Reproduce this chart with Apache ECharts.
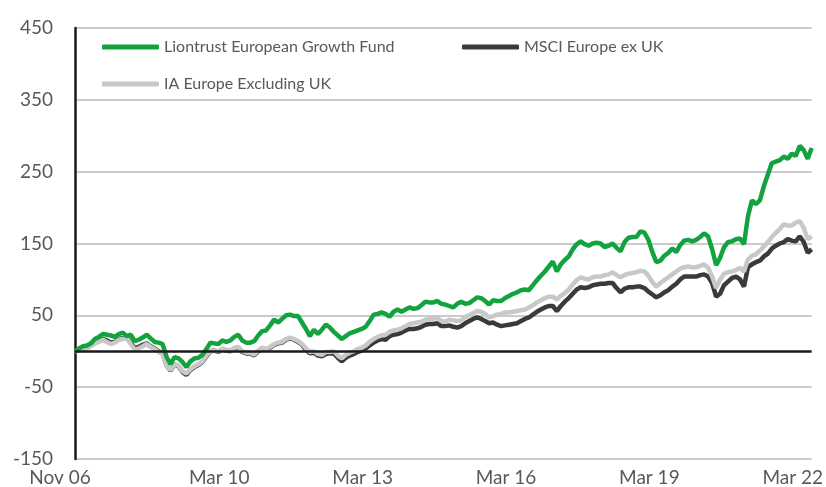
<!DOCTYPE html>
<html>
<head>
<meta charset="utf-8">
<script src="https://cdn.jsdelivr.net/npm/echarts@6/dist/echarts.min.js"></script>
<style>
  html, body { margin: 0; background: #fff; }
  #chart { width: 826px; height: 487px; }
</style>
</head>
<body>
<div id="chart"></div>
<script>
// monthly points, Nov 06 .. Mar 22 (cumulative % return)
const monthNames = ['Jan', 'Feb', 'Mar', 'Apr', 'May', 'Jun', 'Jul', 'Aug', 'Sep', 'Oct', 'Nov', 'Dec']
const categories = []
for (let i = 0; i < 186; i++) {
  const m = (10 + i) % 12
  const y = 6 + Math.floor((10 + i) / 12)
  categories.push(monthNames[m] + ' ' + String(y).padStart(2, '0'))
}
const tickLabels = ['Nov 06', 'Mar 10', 'Mar 13', 'Mar 16', 'Mar 19', 'Mar 22']

const liontrust = [
  0, 4, 7, 8, 11, 17, 20, 24, 23, 22, 20, 24, 26, 21, 23, 14, 16, 19, 23, 18,
  13, 12, 10, -8, -18, -8, -10, -15, -22, -14, -10, -9, -5, 3, 12, 11, 10, 15, 13, 15,
  20, 23, 15, 12, 12, 14, 22, 28, 29, 36, 44, 40, 45, 50, 51, 49, 49, 40, 31, 21,
  30, 24, 30, 37, 33, 27, 22, 17, 21, 25, 27, 29, 31, 34, 42, 51, 52, 54, 52, 48,
  55, 58, 55, 58, 61, 59, 60, 64, 69, 68, 68, 70, 66, 65, 63, 61, 66, 69, 66, 67,
  71, 75, 74, 70, 65, 71, 70, 70, 74, 77, 80, 82, 85, 86, 85, 92, 99, 105, 111, 118,
  125, 111, 121, 127, 132, 142, 149, 153, 149, 147, 150, 151, 150, 145, 147, 150, 144, 139, 152, 158,
  159, 159, 167, 165, 155, 138, 124, 126, 133, 137, 143, 138, 148, 154, 155, 153, 155, 159, 164, 160,
  142, 120, 130, 145, 152, 153, 156, 157, 149, 188, 210, 205, 210, 230, 246, 262, 264, 266, 271, 268,
  275, 272, 286, 280, 268, 283
]
const msci = [
  0, 2, 4, 6, 9, 13, 15, 17, 15, 12, 13, 17, 18, 19, 12, 4, 6, 9, 11, 7,
  4, 0, -3, -20, -27, -18, -21, -29, -33, -26, -22, -19, -15, -7, 0, 1, -1, 3, 1, 0,
  4, 5, -1, -3, -3, -6, 0, 4, 2, 5, 9, 11, 12, 16, 18, 16, 13, 9, 2, -3,
  -2, -6, -7, -4, -3, -3, -9, -14, -9, -6, -4, -1, 1, 4, 8, 12, 15, 17, 16, 21,
  23, 24, 26, 29, 31, 31, 32, 34, 37, 38, 38, 39, 35, 35, 36, 34, 33, 35, 39, 42,
  45, 47, 45, 42, 39, 40, 37, 35, 36, 37, 38, 39, 42, 45, 47, 51, 55, 58, 61, 63,
  63, 56, 63, 69, 74, 80, 86, 89, 88, 89, 92, 93, 94, 94, 95, 95, 88, 82, 87, 89,
  89, 90, 90, 88, 83, 79, 75, 78, 82, 85, 90, 94, 100, 104, 104, 104, 104, 106, 107, 104,
  95, 76, 80, 92, 97, 102, 104, 100, 90, 117, 121, 124, 126, 132, 136, 143, 147, 150, 152, 156,
  154, 153, 160, 152, 137, 142
]
const iaEurope = [
  0, 1, 3, 4, 7, 11, 13, 16, 13, 10, 12, 16, 17, 18, 10, 2, 4, 7, 10, 6,
  3, -1, -4, -20, -26, -18, -20, -28, -31, -25, -21, -18, -14, -6, 0, 1, 0, 4, 2, 1,
  5, 6, 0, -2, -2, -5, 1, 5, 3, 6, 10, 12, 13, 17, 19, 17, 14, 10, 4, -1,
  0, -4, -5, -1, -1, 0, -6, -10, -5, -2, 0, 3, 5, 8, 13, 17, 20, 22, 23, 27,
  29, 30, 32, 35, 38, 39, 40, 41, 44, 45, 45, 47, 42, 41, 44, 43, 42, 43, 48, 50,
  53, 56, 55, 52, 47, 49, 51, 52, 54, 54, 55, 56, 57, 58, 61, 64, 68, 71, 74, 76,
  76, 72, 77, 81, 86, 93, 99, 103, 101, 100, 103, 104, 104, 106, 107, 110, 106, 103, 106, 108,
  109, 110, 112, 111, 105, 96, 90, 95, 99, 103, 107, 111, 115, 117, 118, 117, 117, 119, 121, 116,
  104, 88, 100, 108, 110, 111, 113, 116, 111, 128, 133, 135, 140, 146, 152, 159, 165, 170, 177, 175,
  175, 179, 181, 172, 156, 160
]

const textColor = '#595959'
const fontFamily = 'Lato, "Open Sans", sans-serif'

// light grid every 100 from -150, black line at 0 is drawn as markLine
const splitColors = []
for (let v = -150; v <= 450; v += 50) {
  splitColors.push((v + 150) % 100 === 0 ? '#cbcbcb' : 'rgba(0,0,0,0)')
}

const chart = echarts.init(document.getElementById('chart'))
chart.setOption({
  animation: false,
  textStyle: { fontFamily: fontFamily },
  grid: { left: 75, right: 14, top: 28, bottom: 27 },
  legend: [
    {
      data: ['Liontrust European Growth Fund'],
      left: 97, top: 34,
      icon: 'roundRect', itemWidth: 57, itemHeight: 5,
      textStyle: { color: textColor, fontSize: 16, fontFamily: fontFamily }
    },
    {
      data: ['MSCI Europe ex UK'],
      left: 457, top: 34,
      icon: 'roundRect', itemWidth: 57, itemHeight: 5,
      textStyle: { color: textColor, fontSize: 16, fontFamily: fontFamily }
    },
    {
      data: ['IA Europe Excluding UK'],
      left: 97, top: 71,
      icon: 'roundRect', itemWidth: 57, itemHeight: 5,
      textStyle: { color: textColor, fontSize: 16, fontFamily: fontFamily }
    }
  ],
  xAxis: {
    type: 'category',
    boundaryGap: false,
    data: categories,
    axisLine: { show: false },
    axisTick: { show: false },
    splitLine: { show: false },
    axisLabel: {
      color: textColor,
      fontSize: 19,
      margin: 9,
      padding: [0, 30, 0, 0],
      interval: (index, value) => tickLabels.indexOf(value) >= 0
    }
  },
  yAxis: {
    type: 'value',
    min: -150,
    max: 450,
    interval: 50,
    axisLine: { show: true, lineStyle: { color: '#1a1a1a', width: 2.5 } },
    axisTick: { show: false },
    axisLabel: {
      color: textColor,
      fontSize: 19,
      margin: 22,
      formatter: v => ((v + 150) % 100 === 0 ? String(v) : '')
    },
    splitLine: { show: true, lineStyle: { color: splitColors, width: 2 } }
  },
  series: [
    {
      name: 'MSCI Europe ex UK',
      type: 'line',
      data: msci,
      showSymbol: false,
      color: '#3a3a3a',
      lineStyle: { color: '#3a3a3a', width: 4.5 },
      markLine: {
        silent: true,
        symbol: 'none',
        label: { show: false },
        lineStyle: { color: '#1a1a1a', width: 2.5, type: 'solid' },
        data: [{ yAxis: 0 }]
      }
    },
    {
      name: 'IA Europe Excluding UK',
      type: 'line',
      data: iaEurope,
      showSymbol: false,
      color: '#c8c8c8',
      lineStyle: { color: '#c8c8c8', width: 4.5 }
    },
    {
      name: 'Liontrust European Growth Fund',
      type: 'line',
      data: liontrust,
      showSymbol: false,
      color: '#12a33e',
      lineStyle: { color: '#12a33e', width: 4.5 }
    }
  ]
})
</script>
</body>
</html>
